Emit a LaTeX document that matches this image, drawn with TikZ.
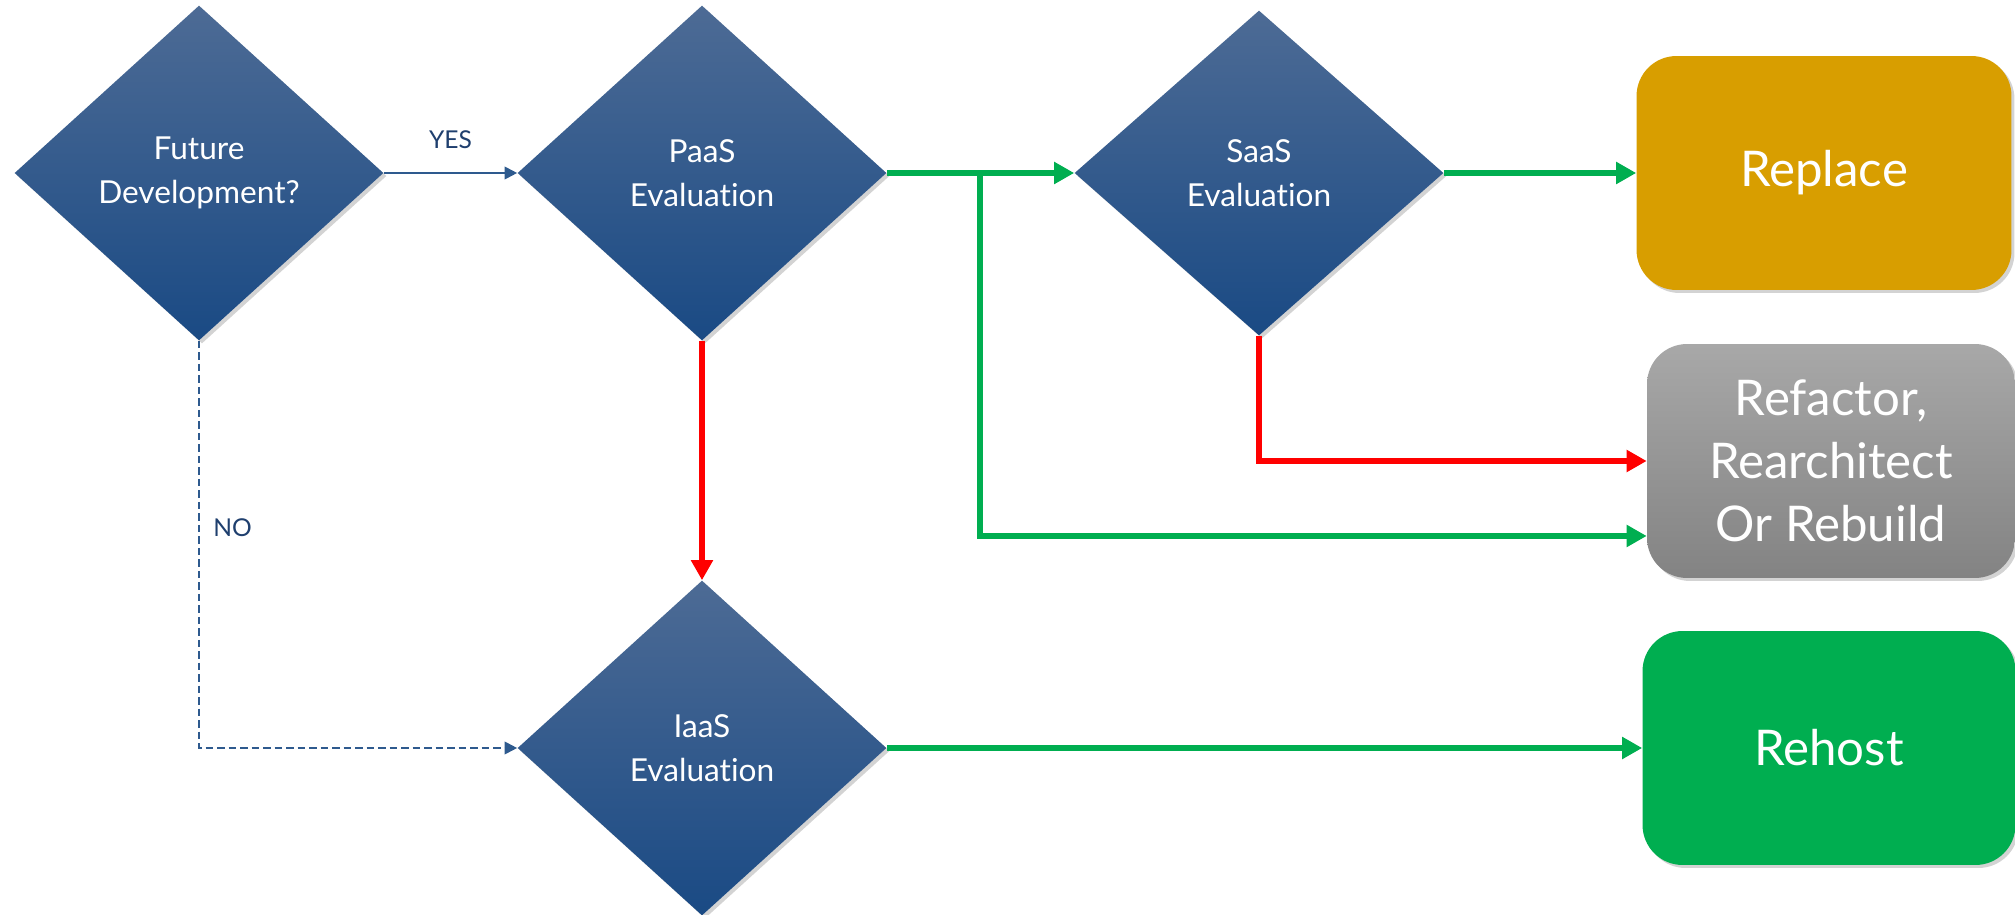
\documentclass[tikz,border=0pt]{standalone}
\usepackage{fontspec}
\setmainfont{Lato}[Ligatures={NoCommon}]
\usetikzlibrary{shapes.geometric,arrows.meta,shadows,calc}
\definecolor{diatop}{HTML}{4D6B95}
\definecolor{diabot}{HTML}{1A4A84}
\definecolor{labelblue}{HTML}{1F3F6E}
\definecolor{linkblue}{HTML}{2E5A8E}
\definecolor{okgreen}{HTML}{00AE50}
\definecolor{nored}{HTML}{FF0000}
\definecolor{gold}{HTML}{D89E00}
\definecolor{greytop}{HTML}{A8A8A8}
\definecolor{greybot}{HTML}{838383}

\begin{document}
\begin{tikzpicture}[x=0.02cm, y=-0.02cm,
    decision/.style={diamond, aspect=1, inner sep=0pt, minimum width=7.38cm, minimum height=6.7cm,
        top color=diatop, bottom color=diabot, text=white, align=center,
        font=\fontsize{18}{25}\selectfont,
        drop shadow={opacity=0.35, shadow xshift=0.06cm, shadow yshift=-0.06cm}},
    outcome/.style={rectangle, rounded corners=0.8cm, minimum width=7.5cm, minimum height=4.68cm,
        text=white, align=center, font=\fontsize{28}{36}\selectfont,
        drop shadow={opacity=0.35, shadow xshift=0.06cm, shadow yshift=-0.06cm}},
    flow/.style={line width=3.8pt, -{Triangle[length=0.4cm,width=0.42cm]}},
    link/.style={linkblue, line width=1.1pt, -{Triangle[length=0.25cm,width=0.25cm]}},
    tag/.style={text=labelblue, font=\fontsize{14}{16}\selectfont}]
    \useasboundingbox (0,0) rectangle (2015,915);

    \node[decision] (Future) at (199,173) {Future\\Development?};
    \node[decision] (PaaS) at (702,173) {PaaS\\Evaluation};
    \node[decision, minimum height=6.5cm] (SaaS) at (1259,173) {SaaS\\Evaluation};
    \node[decision] (IaaS) at (702,748) {IaaS\\Evaluation};

    \node[outcome, fill=gold] (Replace) at (1824,173) {Replace};
    \node[outcome, top color=greytop, bottom color=greybot, minimum width=7.36cm] (Refactor) at (1831,461) {Refactor,\\Rearchitect\\Or Rebuild};
    \node[outcome, fill=okgreen, minimum width=7.46cm] (Rehost) at (1829,748) {Rehost};

    \coordinate (Fork) at (980,173);

    \draw[link] (Future) -- node[tag, above=0.35cm] {YES} (PaaS);
    \draw[link, dash pattern=on 0.15cm off 0.08cm] (Future.south) |- node[tag, pos=0.23, right=0.15cm] {NO} (IaaS.west);

    \draw[flow, okgreen] (PaaS.east) -- (SaaS.west);
    \draw[flow, okgreen] (PaaS.east) -- (Fork) |- ([yshift=-1.5cm]Refactor.west);
    \draw[flow, okgreen] (SaaS.east) -- (Replace.west);
    \draw[flow, okgreen] (IaaS.east) -- (Rehost.west);
    \draw[flow, nored] (SaaS.south) |- (Refactor.west);
    \draw[flow, nored] (PaaS.south) -- (IaaS.north);
\end{tikzpicture}
\end{document}
